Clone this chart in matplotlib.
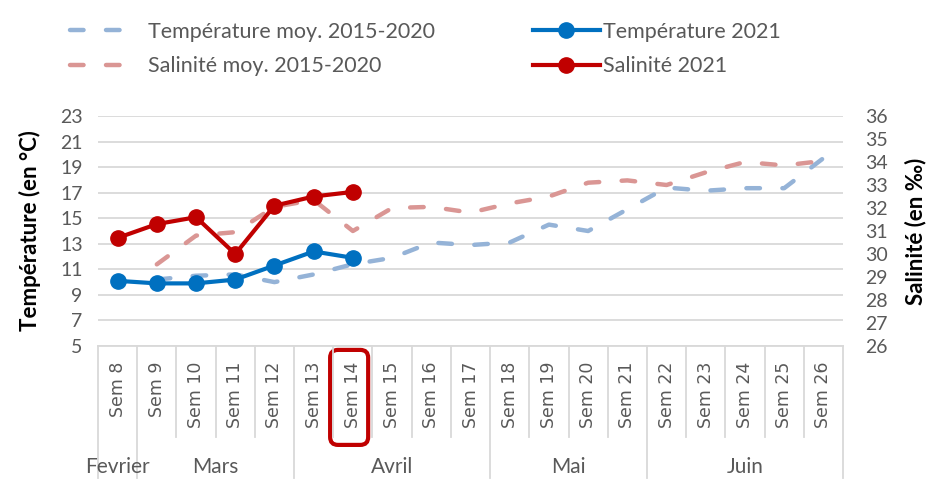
import numpy as np
import matplotlib
matplotlib.use("Agg")
import matplotlib.pyplot as plt
from matplotlib.lines import Line2D
from matplotlib.patches import FancyBboxPatch

plt.rcParams['font.family'] = ['Lato', 'DejaVu Sans']

semaines = ["Sem %d" % s for s in range(8, 27)]
mois = ["Fevrier", "Mars", "Avril", "Mai", "Juin"]
mois_nb_sem = [1, 4, 5, 4, 5]

nan = np.nan
temp_moy = [nan, 10.2, 10.5, 10.6, 10.0, 10.6, 11.4, 11.9, 13.1, 12.9,
            13.1, 14.5, 14.0, 15.7, 17.4, 17.15, 17.35, 17.35, 19.7]
sal_moy = [nan, 29.55, 30.8, 30.95, 32.05, 32.35, 31.0, 32.0, 32.05, 31.8,
           32.2, 32.5, 33.1, 33.2, 33.0, 33.55, 34.0, 33.85, 34.05]
temp_2021 = [10.1, 9.9, 9.9, 10.2, 11.3, 12.4, 11.9]
sal_2021 = [30.7, 31.3, 31.6, 30.0, 32.1, 32.5, 32.7]

gris = '#595959'
grille = '#D9D9D9'
bleu_clair = '#95B3D7'
rose = '#DA9694'
bleu = '#0070C0'
rouge = '#C00000'

fig = plt.figure(figsize=(9.38, 4.95), dpi=100)
ax = fig.add_axes([98/938, 1-346/495, 745/938, 230/495])
ax2 = ax.twinx()

x = np.arange(len(semaines))
x21 = np.arange(len(temp_2021))

l1, = ax.plot(x, temp_moy, color=bleu_clair, lw=3.2, dashes=(3.05, 5.05),
              dash_capstyle='round', label="Température moy. 2015-2020")
l2, = ax.plot(x21, temp_2021, color=bleu, lw=3, marker='o', ms=11,
              label="Température 2021")
l3, = ax2.plot(x, sal_moy, color=rose, lw=3.2, dashes=(3.05, 5.05),
               dash_capstyle='round', label="Salinité moy. 2015-2020")
l4, = ax2.plot(x21, sal_2021, color=rouge, lw=3, marker='o', ms=11,
               label="Salinité 2021")

# axes
ax.set_xlim(-0.5, len(semaines) - 0.5)
ax.set_ylim(5, 23)
ax.set_yticks(np.arange(5, 24, 2))
ax2.set_ylim(26, 36)
ax2.set_yticks(np.arange(26, 37, 1))
ax.grid(axis='y', color=grille, lw=1.3)
ax.set_axisbelow(True)
for a in (ax, ax2):
    for s in a.spines.values():
        s.set_visible(False)
ax.spines['bottom'].set_visible(True)
ax.spines['bottom'].set_color(grille)
ax.spines['bottom'].set_linewidth(1.3)

ax.tick_params(axis='y', length=0, pad=11, labelsize=14, labelcolor=gris)
ax2.tick_params(axis='y', length=0, pad=16, labelsize=14, labelcolor=gris)
ax.set_xticks(x)
ax.set_xticklabels(semaines, rotation=90, family='DejaVu Sans', fontsize=12.5, color=gris)
ax.tick_params(axis='x', length=0, pad=11)

ax.set_ylabel("Température (en °C)", fontsize=16, fontweight='bold', color='black')
ax.yaxis.set_label_coords(-57/745, 0.5)
ax2.set_ylabel("Salinité (en ‰)", fontsize=16, fontweight='bold', color='black')
ax2.yaxis.set_label_coords(1 + 62/745, 0.5)

# axe multi-niveaux
trans = ax.get_xaxis_transform()
bornes = np.cumsum([0] + mois_nb_sem) - 0.5
for k in range(len(semaines) + 1):
    xb = k - 0.5
    bas = -0.574 if xb in bornes else -0.396
    ax.add_artist(Line2D([xb, xb], [0, bas], transform=trans, clip_on=False,
                         color=grille, lw=1.3))
for m, a0, a1 in zip(mois, bornes[:-1], bornes[1:]):
    ax.text((a0 + a1) / 2, -0.526, m, transform=trans, ha='center', va='center',
            fontsize=15, color=gris, clip_on=False)

# cadre Sem 14
cadre = FancyBboxPatch((5.42, -0.430), 0.97, 0.413,
                       boxstyle='round,pad=0,rounding_size=0.2',
                       mutation_aspect=39.2/230, transform=trans, clip_on=False,
                       fill=False, ec=rouge, lw=3)
ax.add_artist(cadre)

# legendes
leg1 = fig.legend([l1, l3], [l1.get_label(), l3.get_label()], loc='center left',
                  bbox_to_anchor=(70/938, 1-49/495), frameon=False, fontsize=15.5,
                  handlelength=2.7, handletextpad=0.93, labelspacing=0.68,
                  borderpad=0, borderaxespad=0, labelcolor=gris)
leg2 = fig.legend([l2, l4], [l2.get_label(), l4.get_label()], loc='center left',
                  bbox_to_anchor=(533/938, 1-49/495), frameon=False, fontsize=15.5,
                  handlelength=3.1, handletextpad=0.15, labelspacing=0.68,
                  borderpad=0, borderaxespad=0, labelcolor=gris)

plt.savefig("out.png", dpi=100)
